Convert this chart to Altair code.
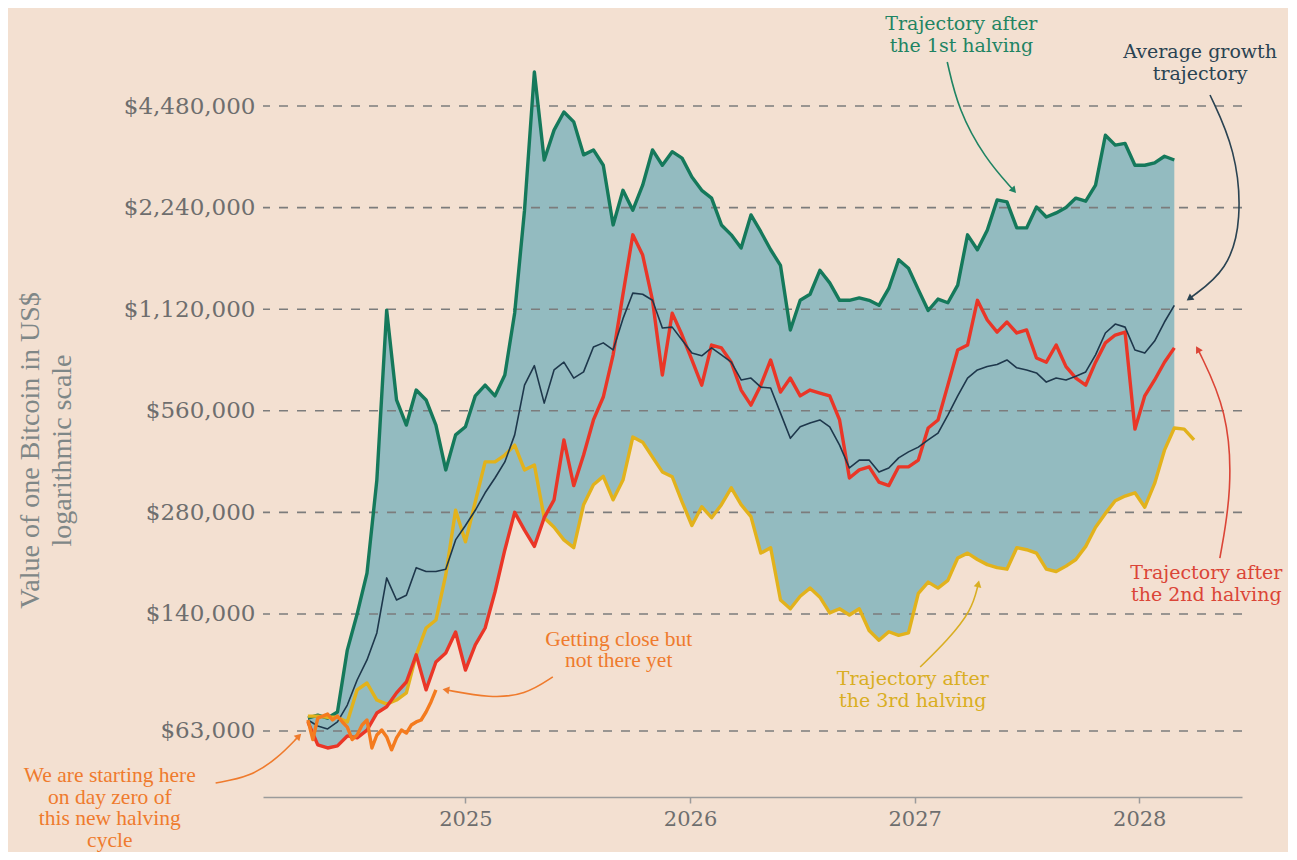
import altair as alt
import numpy as np
import pandas as pd

# ---------------- data ----------------
start_date = "2024-04-20"   # day zero of the halving cycle
step_days = 16              # spacing of the readings for the historical trajectories
current_step_days = 8       # spacing of the readings for the current cycle

green_1st = [68800, 70200, 68800, 71700, 109400, 140000, 185000, 349000, 1113000, 603000,
             508000, 645000, 603000, 508000, 374000, 475000, 502000, 620000, 667000, 620000,
             715000, 1091000, 2200000, 5650000, 3100000, 3800000, 4300000, 4020000, 3210000, 3320000,
             2990000, 1990000, 2520000, 2200000, 2610000, 3320000, 2990000, 3280000, 3140000, 2760000,
             2520000, 2390000, 1990000, 1860000, 1700000, 2130000, 1900000, 1680000, 1510000, 972000,
             1190000, 1240000, 1460000, 1340000, 1190000, 1190000, 1210000, 1190000, 1150000, 1290000,
             1570000, 1480000, 1280000, 1110000, 1200000, 1170000, 1320000, 1860000, 1680000, 1920000,
             2360000, 2330000, 1950000, 1950000, 2250000, 2100000, 2160000, 2240000, 2390000, 2340000,
             2610000, 3670000, 3430000, 3470000, 2990000, 2990000, 3040000, 3180000, 3100000]

red_2nd = [67000, 57300, 56100, 56900, 60900, 60100, 63400, 71200, 74300, 81700,
           88000, 105900, 83400, 100900, 107300, 123800, 95500, 113300, 127200, 162600,
           216600, 280000, 248000, 222000, 270000, 305000, 459000, 336000, 414000, 526000,
           615000, 820000, 1240000, 1860000, 1620000, 1190000, 715000, 1090000, 939000, 792000,
           667000, 877000, 860000, 780000, 645000, 582000, 667000, 792000, 636000, 700000,
           620000, 645000, 632000, 620000, 526000, 354000, 374000, 382000, 344000, 336000,
           382000, 382000, 400000, 498000, 526000, 667000, 848000, 877000, 1190000, 1040000,
           958000, 1026000, 952000, 972000, 803000, 780000, 877000, 757000, 700000, 667000,
           780000, 890000, 939000, 958000, 494000, 620000, 691000, 780000, 860000]

yellow_3rd = [69700, 69700, 69200, 69200, 67000, 83400, 87400, 77800, 75700, 77800,
              81700, 105900, 127200, 134300, 182700, 284000, 229000, 301000, 395000, 395000,
              414000, 443000, 374000, 387000, 270000, 253000, 232000, 220000, 295000, 338000,
              358000, 305000, 349000, 468000, 452000, 408000, 369000, 357000, 301000, 256000,
              291000, 270000, 295000, 331000, 295000, 272000, 212000, 220000, 154000, 145000,
              158000, 167000, 157000, 141000, 145000, 139000, 145000, 125000, 117000, 124000,
              121000, 123000, 161000, 174000, 167000, 176000, 205000, 212000, 203000, 196000,
              192000, 190000, 220000, 217000, 212000, 190000, 187000, 194000, 203000, 222000,
              253000, 278000, 303000, 313000, 320000, 290000, 341000, 428000, 498000, 494000, 459000]

average = [67900, 65200, 63900, 67000, 75200, 89200, 102300, 123000, 179000, 154000,
           159000, 192000, 187000, 187000, 190000, 232000, 256000, 284000, 320000, 354000,
           395000, 475000, 667000, 762000, 590000, 740000, 780000, 700000, 730000, 865000,
           890000, 848000, 1050000, 1250000, 1240000, 1190000, 985000, 991000, 907000, 830000,
           815000, 860000, 820000, 780000, 691000, 700000, 658000, 654000, 551000, 464000,
           502000, 515000, 526000, 502000, 443000, 379000, 400000, 400000, 369000, 379000,
           406000, 423000, 437000, 459000, 481000, 544000, 620000, 700000, 740000, 757000,
           768000, 792000, 751000, 740000, 725000, 681000, 700000, 691000, 709000, 730000,
           820000, 952000, 1012000, 991000, 848000, 830000, 901000, 1026000, 1150000]

current = [67900, 59400, 68800, 69700, 70700, 67900, 69700, 67000, 64700, 59400,
           61300, 65600, 67900, 56100, 61300, 63400, 60500, 55400, 60100, 63400,
           62100, 65600, 67000, 67900, 71700, 76800, 83400]

y_ticks = [63000, 140000, 280000, 560000, 1120000, 2240000, 4480000]
x_years = [2025, 2026, 2027, 2028]

# annotation texts (day offset from start, value at the first line)
note_texts = ["Trajectory after\nthe 1st halving", "Average growth\ntrajectory",
              "Trajectory after\nthe 2nd halving", "Trajectory after\nthe 3rd halving"]
note_days = [1062, 1450, 1460, 983]
note_values = [7840000, 6470000, 185100, 89800]

orange_texts = ["Getting close but\nnot there yet",
                "We are starting here\non day zero of\nthis new halving\ncycle"]
orange_days = [505, -322]
orange_values = [117200, 46300]

# annotation arrows (day offsets, values)
arrow_days = {"g": [1039, 1057, 1100, 1146], "n": [1466, 1508, 1518, 1495, 1434],
              "r": [1482, 1502, 1495, 1447], "y": [995, 1040, 1079, 1089],
              "o1": [398, 353, 296, 226], "o2": [-150, -94, -49, -16]}
arrow_values = {"g": [6050000, 4360000, 3140000, 2530000],
                "n": [4830000, 3320000, 2060000, 1460000, 1210000],
                "r": [205000, 326000, 560000, 847000],
                "y": [97500, 117200, 143800, 170600],
                "o1": [91100, 80500, 78900, 83300],
                "o2": [44200, 46000, 52400, 60500]}
arrow_angles = {"g": 139, "n": 234, "r": 330, "y": 13, "o1": 280, "o2": 44}

# ---------------- styles ----------------
BG = "#F3E0D1"
FILL = "#93BBC0"
GREEN = "#15795B"
RED = "#EA3627"
YELLOW = "#E2B21C"
NAVY = "#1E374B"
ORANGE = "#F47B1F"
GRID = "#7c7c7c"
TICK = "#6e6e6e"
T_GREEN = "#1f8463"
T_NAVY = "#2a4352"
T_RED = "#db4537"
T_YELLOW = "#d9ae22"
T_ORANGE = "#ef7b2d"

arrow_colors = {"g": T_GREEN, "n": T_NAVY, "r": T_RED, "y": T_YELLOW, "o1": T_ORANGE, "o2": T_ORANGE}

t0 = pd.Timestamp(start_date)


def day_dates(days):
    return t0 + pd.to_timedelta(np.asarray(days, dtype=float), unit="D")


def series_df(vals, step):
    return pd.DataFrame({"date": day_dates(np.arange(len(vals)) * step), "value": vals})


n = min(len(green_1st), len(red_2nd), len(yellow_3rd))
area_df = pd.DataFrame({
    "date": day_dates(np.arange(n) * step_days),
    "value": [max(g, r, y) for g, r, y in zip(green_1st, red_2nd, yellow_3rd)],
    "lower": [min(g, r, y) for g, r, y in zip(green_1st, red_2nd, yellow_3rd)],
})

yscale = alt.Scale(type="log", domain=[40150, 8625000])
xscale = alt.Scale(domain=[alt.DateTime(year=2024, month=2, date=7),
                           alt.DateTime(year=2028, month=6, date=16)])

yaxis = alt.Axis(values=y_ticks, format="$,.0f", labelFont="DejaVu Serif", labelFontSize=23,
                 labelColor=TICK, labelPadding=8, ticks=False, domain=False, grid=False,
                 title=["Value of one Bitcoin in US$", "logarithmic scale"],
                 titleFont="Liberation Serif", titleFontSize=28, titleFontWeight="normal",
                 titleColor="#7f8787", titleX=-247, titleY=440, titleAngle=270,
                 titleBaseline="top", titleAlign="center", titleLineHeight=32)
xaxis = alt.Axis(values=[alt.DateTime(year=yr, month=1, date=1) for yr in x_years], format="%Y",
                 labelFont="DejaVu Serif", labelFontSize=21, labelColor=TICK, labelPadding=5,
                 domainColor="#9b9b9b", domainWidth=1.5, tickColor="#9b9b9b", tickSize=6,
                 tickWidth=1.5, grid=False, title=None)

X = alt.X("date:T", scale=xscale, axis=xaxis)
Y = alt.Y("value:Q", scale=yscale, axis=yaxis)

area = alt.Chart(area_df).mark_area(color=FILL, opacity=1).encode(x=X, y=Y, y2="lower:Q")

rules = alt.Chart(pd.DataFrame({"value": y_ticks})).mark_rule(
    color=GRID, strokeDash=[9, 9], strokeWidth=1.6).encode(y=Y)


def line(vals, step, color, width):
    return alt.Chart(series_df(vals, step)).mark_line(
        color=color, strokeWidth=width, strokeJoin="round").encode(x=X, y=Y)


lines = [
    line(green_1st, step_days, GREEN, 3.4),
    line(yellow_3rd, step_days, YELLOW, 3.4),
    line(red_2nd, step_days, RED, 3.4),
    line(average, step_days, NAVY, 1.6),
    line(current, current_step_days, ORANGE, 3.4),
]

rows = []
for key in arrow_days:
    for k, (d, v) in enumerate(zip(arrow_days[key], arrow_values[key])):
        rows.append({"arrow": key, "k": k, "date": day_dates([d])[0], "value": v,
                     "color": arrow_colors[key]})
arrow_df = pd.DataFrame(rows)
head_df = pd.DataFrame([{"date": day_dates([arrow_days[k][-1]])[0], "value": arrow_values[k][-1],
                         "angle": arrow_angles[k], "color": arrow_colors[k]} for k in arrow_days])

arrows = alt.Chart(arrow_df).mark_line(interpolate="basis", strokeWidth=1.6).encode(
    x=X, y=Y, color=alt.Color("color:N", scale=None), detail="arrow:N", order="k:Q")
heads = alt.Chart(head_df).mark_point(shape="triangle", filled=True, size=60, opacity=1,
                                      strokeWidth=0).encode(
    x=X, y=Y, color=alt.Color("color:N", scale=None), angle=alt.Angle("angle:Q", scale=None))

notes_df = pd.DataFrame({"date": day_dates(note_days), "value": note_values, "text": note_texts,
                         "color": [T_GREEN, T_NAVY, T_RED, T_YELLOW]})
notes = alt.Chart(notes_df).mark_text(font="DejaVu Serif", fontSize=19, lineHeight=22,
                                      lineBreak="\n", align="center", baseline="middle").encode(
    x=X, y=Y, text="text:N", color=alt.Color("color:N", scale=None))

onotes_df = pd.DataFrame({"date": day_dates(orange_days), "value": orange_values,
                          "text": orange_texts, "color": [T_ORANGE, T_ORANGE]})
onotes = alt.Chart(onotes_df).mark_text(font="Liberation Serif", fontSize=21.5, lineHeight=21.5,
                                        lineBreak="\n", align="center", baseline="middle").encode(
    x=X, y=Y, text="text:N", color=alt.Color("color:N", scale=None))

chart = alt.layer(area, rules, *lines, arrows, heads, notes, onotes).properties(
    width=979, height=787,
    padding={"left": 255, "top": 2, "right": 46, "bottom": 55},
    autosize=alt.AutoSizeParams(type="none"),
    background=BG,
).configure_view(stroke=None)

chart.save("out.html", embed_options={"renderer": "svg", "actions": False})
